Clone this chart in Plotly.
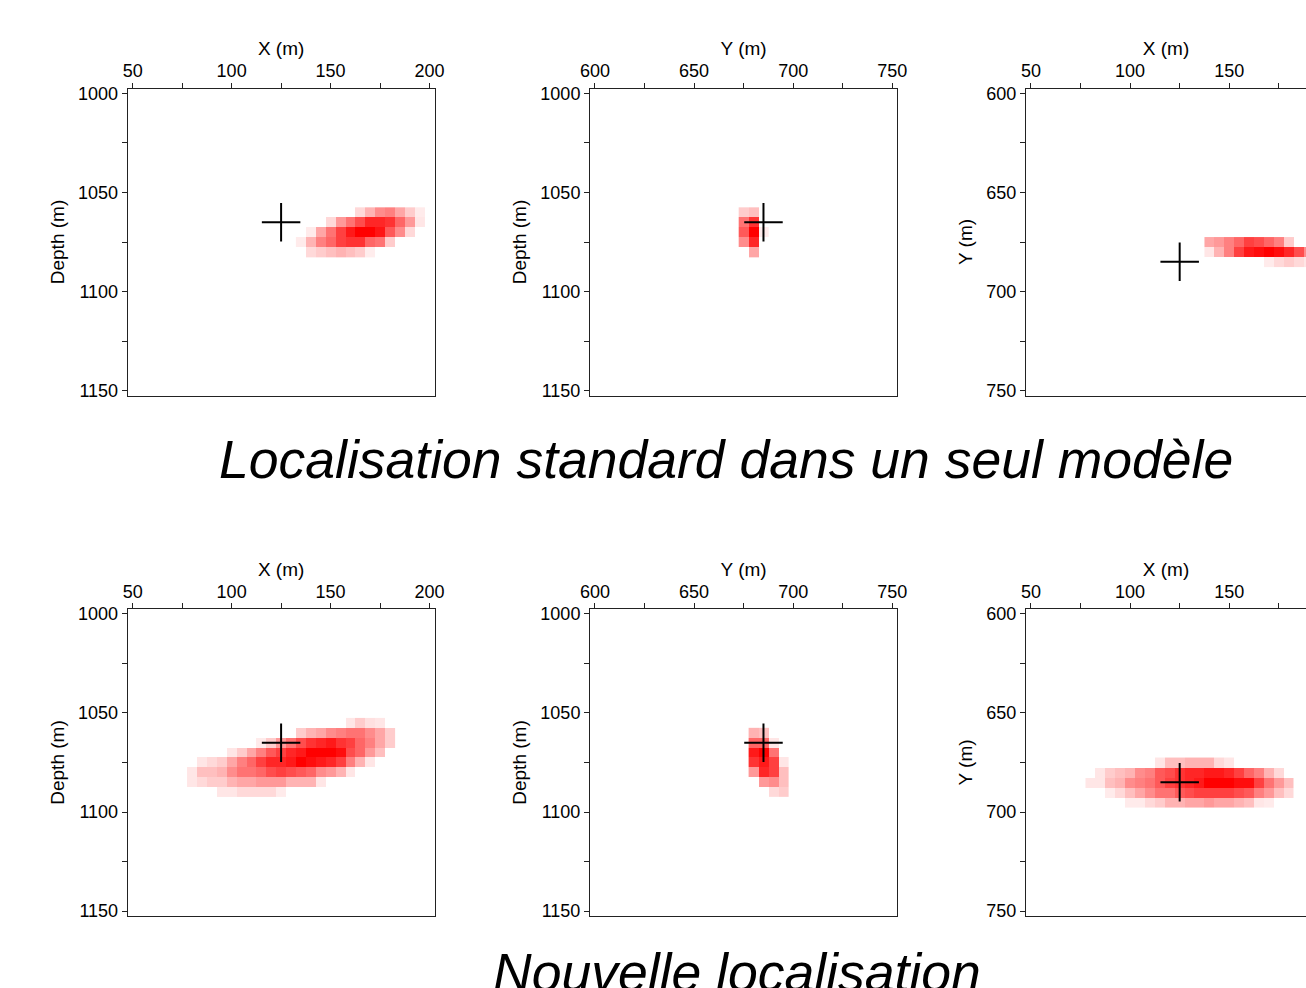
import plotly.graph_objects as go

# ---------------- data ----------------
# Panel A: standard location, X vs Depth
a_x = [135, 140, 145, 150, 155, 160, 165, 170, 175, 180, 185, 190, 195]
a_y = [1060, 1065, 1070, 1075, 1080]
a_z = [
    [0, 0, 0, 0, 0, 0, .15, .3, .45, .5, .35, .2, .08],
    [0, 0, 0, .15, .4, .55, .7, .85, .85, .8, .6, .4, .1],
    [0, .08, .35, .55, .75, .9, 1, 1, .92, .65, .45, .15, 0],
    [.08, .3, .5, .6, .75, .8, .8, .6, .55, .2, 0, 0, 0],
    [0, .15, .2, .25, .3, .25, .2, .07, 0, 0, 0, 0, 0],
]
# Panel B: standard location, Y vs Depth
b_x = [675, 680, 685]
b_y = [1060, 1065, 1070, 1075, 1080]
b_z = [
    [.2, .25, 0],
    [.55, .8, 0],
    [.65, 1, .08],
    [.45, .85, 0],
    [0, .35, 0],
]
# Panel C: standard location, X vs Y
c_x = [140, 145, 150, 155, 160, 165, 170, 175, 180, 185, 190, 195]
c_y = [675, 680, 685]
c_z = [
    [.35, .4, .5, .6, .75, .7, .6, .5, .2, 0, 0, 0],
    [.1, .3, .5, .75, .9, .95, 1, .95, .85, .7, .45, .15],
    [0, 0, 0, 0, 0, 0, .08, .15, .2, .15, .1, 0],
]
# Panel D: new location, X vs Depth
d_x = [80, 85, 90, 95, 100, 105, 110, 115, 120, 125, 130, 135, 140, 145, 150,
       155, 160, 165, 170, 175, 180]
d_y = [1055, 1060, 1065, 1070, 1075, 1080, 1085, 1090]
d_z = [
    [0, 0, 0, 0, 0, 0, 0, 0, 0, 0, 0, 0, 0, 0, 0, 0, .1, .2, .12, .1, 0],
    [0, 0, 0, 0, 0, 0, 0, 0, 0, 0, 0, .2, .3, .35, .45, .5, .55, .55, .45, .35, .2],
    [0, 0, 0, 0, 0, 0, 0, .08, .2, .4, .55, .7, .8, .85, .9, .8, .75, .6, .5, .35, .2],
    [0, 0, 0, 0, .1, .2, .35, .5, .65, .75, .85, .9, 1, 1, 1, .95, .7, .6, .4, .25, 0],
    [0, .1, .15, .2, .35, .5, .6, .75, .85, .85, .9, 1, .95, .9, .85, .75, .5, .3, .1, 0, 0],
    [.1, .25, .25, .3, .45, .55, .55, .6, .7, .75, .7, .65, .6, .45, .4, .3, .1, 0, 0, 0, 0],
    [.1, .15, .2, .2, .3, .35, .35, .4, .4, .4, .3, .3, .3, .1, 0, 0, 0, 0, 0, 0, 0],
    [0, 0, 0, .1, .1, .15, .15, .15, .15, .08, 0, 0, 0, 0, 0, 0, 0, 0, 0, 0, 0],
]
# Panel E: new location, Y vs Depth
e_x = [680, 685, 690, 695]
e_y = [1060, 1065, 1070, 1075, 1080, 1085, 1090]
e_z = [
    [.3, .25, 0, 0],
    [.6, .6, .1, 0],
    [.9, 1, .55, 0],
    [.8, .9, .75, .1],
    [.4, .85, .75, .25],
    [0, .4, .45, .25],
    [0, 0, .15, .2],
]
# Panel F: new location, X vs Y
f_x = [80, 85, 90, 95, 100, 105, 110, 115, 120, 125, 130, 135, 140, 145, 150,
       155, 160, 165, 170, 175, 180]
f_y = [675, 680, 685, 690, 695]
f_z = [
    [0, 0, 0, 0, 0, 0, 0, .1, .25, .25, .3, .3, .3, .15, .1, 0, 0, 0, 0, 0, 0],
    [0, .1, .2, .25, .3, .45, .5, .65, .7, .8, .85, .85, .9, .9, .85, .75, .6, .5, .3, .15, 0],
    [.1, .1, .25, .3, .45, .5, .55, .65, .75, .8, .85, .9, 1, 1, 1, .95, .95, .75, .55, .4, .25],
    [0, 0, .08, .15, .25, .35, .45, .55, .55, .65, .7, .75, .75, .75, .75, .7, .65, .5, .4, .25, .15],
    [0, 0, 0, 0, .08, .08, .15, .2, .3, .3, .35, .35, .4, .35, .35, .3, .25, .1, .08, 0, 0],
]

# True source position
src_x = 125
src_y = 685
src_depth = 1065

x_ticks = [50, 100, 150, 200]
y_ticks = [600, 650, 700, 750]
depth_ticks = [1000, 1050, 1100, 1150]

title_top = "Localisation standard dans un seul modèle"
title_bottom = "Nouvelle localisation"

# ---------------- figure ----------------
W, H = 1306, 988
FONT = "Liberation Sans, Arial, Helvetica, sans-serif"
scale = [[0, "#ffffff"], [1, "#ff0000"]]

fig = go.Figure()

panels = [
    (a_x, a_y, a_z, src_x, src_depth),
    (b_x, b_y, b_z, src_y, src_depth),
    (c_x, c_y, c_z, src_x, src_y),
    (d_x, d_y, d_z, src_x, src_depth),
    (e_x, e_y, e_z, src_y, src_depth),
    (f_x, f_y, f_z, src_x, src_y),
]

for i, (px, py, pz, cx, cy) in enumerate(panels):
    n = "" if i == 0 else str(i + 1)
    fig.add_trace(go.Heatmap(x=px, y=py, z=pz, colorscale=scale, zmin=0, zmax=1,
                             showscale=False, xaxis="x" + n, yaxis="y" + n,
                             hoverinfo="skip"))
    fig.add_trace(go.Scatter(x=[cx], y=[cy], mode="markers", xaxis="x" + n, yaxis="y" + n,
                             marker=dict(symbol="cross-thin", size=27.5,
                                         line=dict(color="black", width=2)),
                             showlegend=False, hoverinfo="skip"))

col_px = [(127.7, 434.5), (590.0, 897.3), (1026.0, 1306.0)]
row_px = [(88.5, 395.5), (609.0, 916.0)]

x_ranges = [[47.5, 202.5], [597.5, 752.5], [47.5, 47.5 + 280.0 / 1.983]]
x_titles = ["X (m)", "Y (m)", "X (m)"]
x_tickvals = [x_ticks, y_ticks, x_ticks]
y_titles = ["Depth (m)", "Depth (m)", "Y (m)"]
y_ranges = [[1152.5, 997.5], [1152.5, 997.5], [752.5, 597.5]]
y_tickvals = [depth_ticks, depth_ticks, y_ticks]

tickfont = dict(family=FONT, size=18, color="black")
titlefont = dict(family=FONT, size=19, color="black")
layout = {}
for r in range(2):
    for c in range(3):
        i = r * 3 + c
        n = "" if i == 0 else str(i + 1)
        x0, x1 = col_px[c]
        yt, yb = row_px[r]
        layout["xaxis" + n] = dict(
            domain=[x0 / W, min(x1 / W, 1.0)], anchor="y" + n, side="top",
            range=x_ranges[c], tickvals=x_tickvals[c], ticks="outside", ticklen=5,
            tickwidth=1, tickcolor="#222", showline=True, linecolor="#222", linewidth=1,
            mirror=True, showgrid=False, zeroline=False, tickfont=tickfont,
            ticklabelstandoff=-2,
            minor=dict(dtick=25, tick0=0, ticks="outside", ticklen=5, tickcolor="#222",
                       showgrid=False),
            title=dict(text=x_titles[c], font=titlefont, standoff=0),
            automargin=False, fixedrange=True,
        )
        layout["yaxis" + n] = dict(
            domain=[1 - yb / H, 1 - yt / H], anchor="x" + n,
            range=y_ranges[c], tickvals=y_tickvals[c], ticks="outside", ticklen=5,
            tickwidth=1, tickcolor="#222", showline=True, linecolor="#222", linewidth=1,
            mirror=(c != 2), showgrid=False, zeroline=False, tickfont=tickfont,
            minor=dict(dtick=25, tick0=0, ticks="outside", ticklen=5, tickcolor="#222",
                       showgrid=False),
            title=dict(text=y_titles[c], font=titlefont, standoff=8),
            automargin=False, fixedrange=True,
        )

fig.update_layout(
    width=W, height=H, margin=dict(l=0, r=0, t=0, b=0, pad=0, autoexpand=False),
    paper_bgcolor="white", plot_bgcolor="white", showlegend=False,
    **layout,
)

fig.add_annotation(text="<i>" + title_top + "</i>", x=726 / W, y=1 - 459 / H,
                   xref="paper", yref="paper", showarrow=False,
                   xanchor="center", yanchor="middle",
                   font=dict(family=FONT, size=53.5, color="black"))
fig.add_annotation(text="<i>" + title_bottom + "</i>", x=737 / W, y=1 - 972 / H,
                   xref="paper", yref="paper", showarrow=False,
                   xanchor="center", yanchor="middle",
                   font=dict(family=FONT, size=53.5, color="black"))

fig.write_html("out.html")
